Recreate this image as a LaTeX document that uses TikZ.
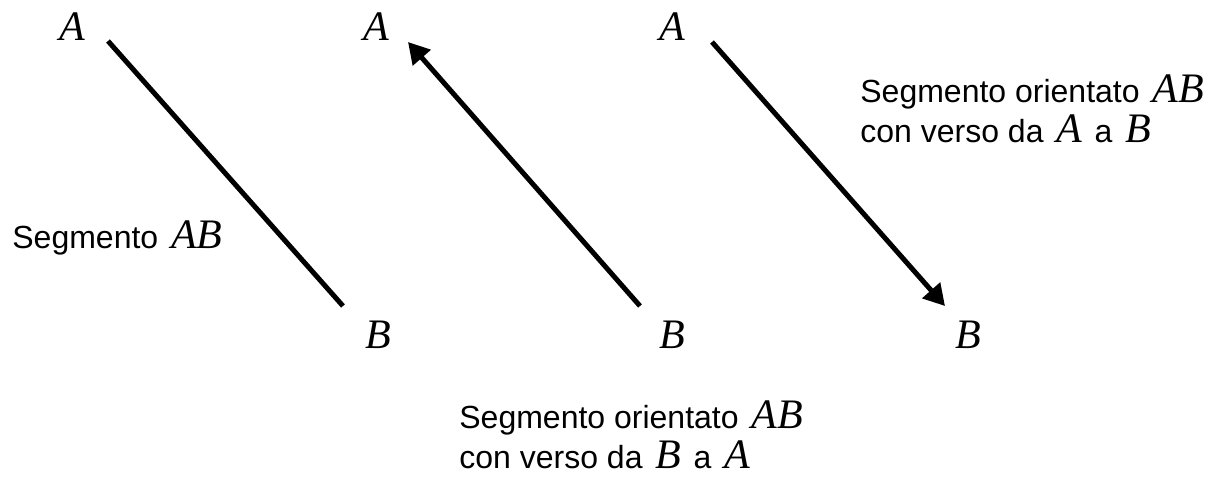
\documentclass[tikz,border=0pt]{standalone}
\usepackage{fontspec}
\setmainfont{Liberation Sans}
\newfontfamily\tmsfont{Liberation Serif}
\usetikzlibrary{arrows.meta}
\newcommand{\pnt}[1]{{\tmsfont\itshape\fontsize{21}{25}\selectfont #1}}
\newcommand{\gap}{\hspace{0.12em}}
\tikzset{
  lbl/.style={anchor=base, inner sep=0pt},
  txt/.style={anchor=base west, inner sep=0pt, font=\fontsize{16}{19}\selectfont},
  seg/.style={line width=2.5pt},
  headed/.style={-{Triangle[length=10.5pt,width=11.5pt]}}
}
\begin{document}
\begin{tikzpicture}[x=0.5pt,y=-0.5pt]
  \useasboundingbox (0,0) rectangle (1212,483);
  % end labels
  \foreach \x/\n in {72/1, 376/2, 672/3} {
    \node[lbl] (a\n) at (\x,40) {\pnt{A}};
  }
  \foreach \x/\n in {378/1, 672/2, 968/3} {
    \node[lbl] (b\n) at (\x,348) {\pnt{B}};
  }
  % segment ends
  \coordinate (p1) at (108,41);
  \coordinate (q1) at (343,306);
  \coordinate (p2) at (408,42);
  \coordinate (q2) at (640,306);
  \coordinate (p3) at (712,42);
  \coordinate (q3) at (945,306);
  \draw[seg] (p1) -- (q1);
  \draw[seg, headed] (q2) -- (p2);
  \draw[seg, headed] (p3) -- (q3);
  % captions
  \node[txt] (t1) at (12,248) {Segmento \gap\pnt{AB}};
  \node[txt] (t2) at (860,102) {Segmento orientato \gap\pnt{AB}};
  \node[txt] (t3) at (860,142) {con verso da \gap\pnt{A}\gap{} a \gap\pnt{B}};
  \node[txt] (t4) at (459,428) {Segmento orientato \gap\pnt{AB}};
  \node[txt] (t5) at (459,468) {con verso da \gap\pnt{B}\gap{} a \gap\pnt{A}};
\end{tikzpicture}
\end{document}
